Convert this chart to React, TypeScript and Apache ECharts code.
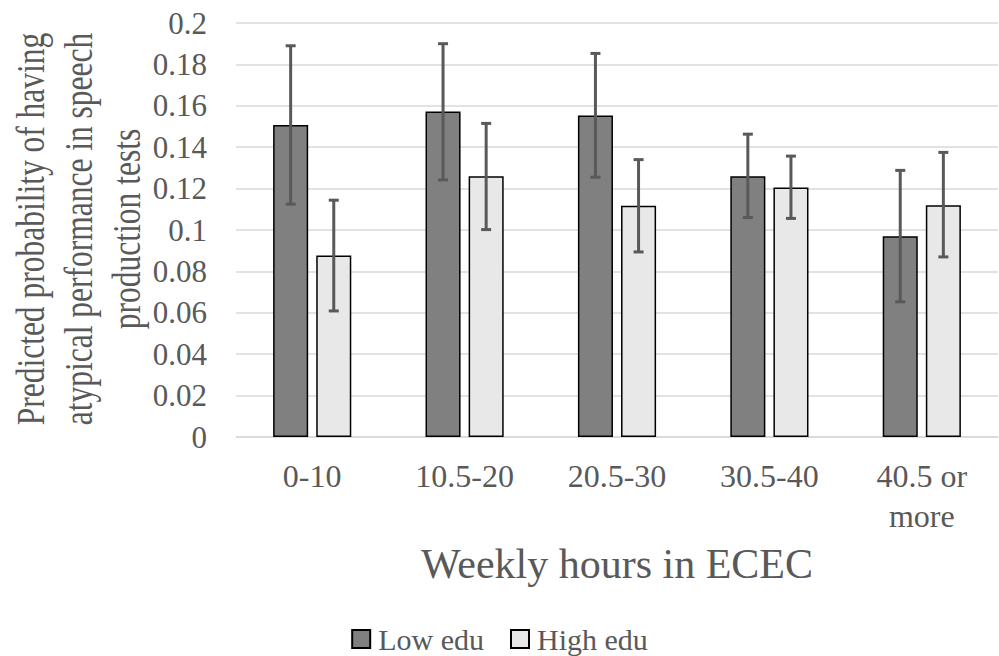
import React, { useEffect, useRef } from "react";
import * as echarts from "echarts";

const categories = ["0-10", "10.5-20", "20.5-30", "30.5-40", "40.5 or\nmore"];
const lowEdu = [0.1507, 0.1573, 0.1553, 0.126, 0.097];
const lowEduCiLow = [0.1125, 0.1242, 0.1255, 0.106, 0.0653];
const lowEduCiHigh = [0.189, 0.19, 0.1853, 0.1463, 0.1288];
const highEdu = [0.0877, 0.126, 0.1117, 0.1205, 0.112];
const highEduCiLow = [0.0609, 0.1002, 0.0894, 0.1056, 0.087];
const highEduCiHigh = [0.1144, 0.1515, 0.134, 0.1357, 0.1375];
const seriesNames = ["Low edu", "High edu"];
const yTitle = "Predicted probability of having\natypical performance in speech\nproduction tests";
const xTitle = "Weekly hours in ECEC";

const FONT = "'Liberation Serif', 'Times New Roman', serif";
const TEXT = "#595959";
const BAR_W = 0.23;
const BAR_GAP = 0.23;

function errRender(sign: number) {
  return (params: any, api: any) => {
    const idx = api.value(0);
    const lo = api.coord([idx, api.value(1)]);
    const hi = api.coord([idx, api.value(2)]);
    const band = api.size([1, 0])[0];
    const bw = band * BAR_W;
    const off = (sign * bw * (1 + BAR_GAP)) / 2;
    const x = lo[0] + off;
    const cap = 5;
    const style = { stroke: "#595959", lineWidth: 3 };
    return {
      type: "group",
      children: [
        { type: "line", shape: { x1: x, y1: lo[1], x2: x, y2: hi[1] }, style },
        { type: "line", shape: { x1: x - cap, y1: lo[1], x2: x + cap, y2: lo[1] }, style },
        { type: "line", shape: { x1: x - cap, y1: hi[1], x2: x + cap, y2: hi[1] }, style },
      ],
    };
  };
}

export default function App() {
  const ref = useRef<HTMLDivElement>(null);
  useEffect(() => {
    if (!ref.current) return;
    const chart = echarts.init(ref.current, null, { renderer: "svg" });
    chart.setOption({
      animation: false,
      backgroundColor: "#ffffff",
      grid: { left: 236, right: 1, top: 23, bottom: 219, containLabel: false },
      legend: {
        data: seriesNames,
        top: 624,
        left: "center",
        padding: 0,
        icon: "rect",
        itemWidth: 18,
        itemHeight: 18,
        itemGap: 26,
        textStyle: {
          fontFamily: FONT,
          fontSize: 30,
          lineHeight: 28,
          color: TEXT,
          padding: [0, 0, 0, 3],
        },
      },
      xAxis: {
        type: "category",
        data: categories,
        axisTick: { show: false },
        axisLine: { lineStyle: { color: "#d9d9d9", width: 1.5 } },
        axisLabel: {
          fontFamily: FONT,
          fontSize: 32,
          color: TEXT,
          margin: 19,
          lineHeight: 40,
          interval: 0,
        },
        name: xTitle,
        nameLocation: "middle",
        nameGap: 106,
        nameTextStyle: { fontFamily: FONT, fontSize: 42, color: TEXT },
      },
      yAxis: {
        type: "value",
        min: 0,
        max: 0.2,
        interval: 0.02,
        axisLine: { show: false },
        axisTick: { show: false },
        splitLine: { lineStyle: { color: "#d9d9d9", width: 1.5 } },
        axisLabel: {
          fontFamily: FONT,
          fontSize: 31,
          color: TEXT,
          margin: 29,
          formatter: (v: number) => String(parseFloat(v.toFixed(2))),
        },
      },
      graphic: [
        {
          type: "text",
          x: 79,
          y: 229,
          rotation: Math.PI / 2,
          scaleY: 1.25,
          style: {
            text: yTitle,
            align: "center",
            verticalAlign: "middle",
            fontFamily: FONT,
            fontSize: 31.5,
            lineHeight: 38.5,
            fill: TEXT,
          },
        },
      ],
      series: [
        {
          name: seriesNames[0],
          type: "bar",
          data: lowEdu,
          barWidth: `${BAR_W * 100}%`,
          barGap: `${BAR_GAP * 100}%`,
          itemStyle: { color: "#808080", borderColor: "#000000", borderWidth: 1.5 },
        },
        {
          name: seriesNames[1],
          type: "bar",
          data: highEdu,
          barWidth: `${BAR_W * 100}%`,
          barGap: `${BAR_GAP * 100}%`,
          itemStyle: { color: "#e8e8e8", borderColor: "#000000", borderWidth: 1.5 },
        },
        {
          type: "custom",
          renderItem: errRender(-1),
          data: lowEdu.map((_, i) => [i, lowEduCiLow[i], lowEduCiHigh[i]]),
          z: 10,
          silent: true,
        },
        {
          type: "custom",
          renderItem: errRender(1),
          data: highEdu.map((_, i) => [i, highEduCiLow[i], highEduCiHigh[i]]),
          z: 10,
          silent: true,
        },
      ],
    });
    return () => chart.dispose();
  }, []);
  return (
    <div
      ref={ref}
      style={{ position: "absolute", left: 0, top: 0, width: 999, height: 656 }}
    />
  );
}
